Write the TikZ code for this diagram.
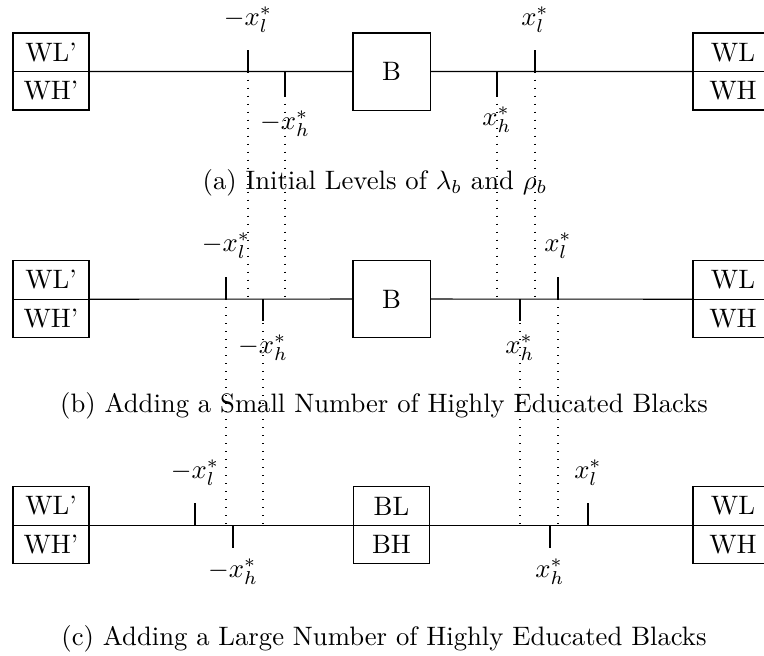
\documentclass[tikz,border=0pt]{standalone}
\begin{document}
\begin{tikzpicture}[x=0.375pt,y=-0.375pt,
  cell/.style={draw, line width=0.4pt, minimum width=28.5pt, minimum height=14.44pt, inner sep=0pt, outer sep=0pt},
  rcell/.style={cell, minimum width=30pt},
  bigbox/.style={draw, line width=0.4pt, minimum width=28.9pt, minimum height=28.9pt, inner sep=0pt, outer sep=0pt},
  lab/.style={anchor=base, inner sep=0pt, outer sep=0pt},
  tickline/.style={line width=0.4pt},
  guide/.style={line width=0.4pt, dash pattern=on 0.4pt off 2.6pt},
  captext/.style={anchor=base, inner sep=0pt}]
\clip (0,0) rectangle (764,655);
% ---------- panel (a) ----------
\node[cell] (aWLp) at (51,52.25) {WL'};
\node[cell] (aWHp) at (51,90.75) {WH'};
\node[bigbox] (aB) at (391.5,71.5) {B};
\node[rcell] (aWL) at (733,52.25) {WL};
\node[rcell] (aWH) at (733,90.75) {WH};
\draw (aWLp.south east) -- (aB.west);
\draw (aB.east) -- (aWL.south west);
\coordinate (a1) at (248,71.5);
\coordinate (a2) at (285,71.5);
\coordinate (a3) at (497,71.5);
\coordinate (a4) at (535,71.5);
\draw[tickline] (a1) -- ++(0,-22);
\draw[tickline] (a2) -- ++(0,24);
\draw[tickline] (a3) -- ++(0,24);
\draw[tickline] (a4) -- ++(0,-22);
\node[lab] (la1) at (248,25) {$-x_l^*$};
\node[lab] (la2) at (285,129) {$-x_h^*$};
\node[lab] (la3) at (497,125) {$x_h^*$};
\node[lab] (la4) at (535,25) {$x_l^*$};
\node[captext] (capa) at (375,189) {(a) Initial Levels of $\lambda_b$ and $\rho_b$};
% ---------- panel (b) ----------
\node[cell] (bWLp) at (51,280) {WL'};
\node[cell] (bWHp) at (51,318.5) {WH'};
\node[bigbox] (bB) at (391.5,299) {B};
\node[rcell] (bWL) at (733,280) {WL};
\node[rcell] (bWH) at (733,318.5) {WH};
\draw (bWLp.south east) -- (bB.west);
\draw (bB.east) -- (bWL.south west);
\coordinate (b1) at (226,299);
\coordinate (b2) at (263,299);
\coordinate (b3) at (520,299);
\coordinate (b4) at (558,299);
\draw[tickline] (b1) -- ++(0,-22);
\draw[tickline] (b2) -- ++(0,22);
\draw[tickline] (b3) -- ++(0,22);
\draw[tickline] (b4) -- ++(0,-22);
\node[lab] (lb1) at (226,251) {$-x_l^*$};
\node[lab] (lb2) at (263,353) {$-x_h^*$};
\node[lab] (lb3) at (520,353) {$x_h^*$};
\node[lab] (lb4) at (558,251) {$x_l^*$};
\node[captext] (capb) at (384,412) {(b) Adding a Small Number of Highly Educated Blacks};
% ---------- panel (c) ----------
\node[cell] (cWLp) at (51,506) {WL'};
\node[cell] (cWHp) at (51,544.5) {WH'};
\node[cell] (cBL) at (391.5,506) {BL};
\node[cell] (cBH) at (391.5,544.5) {BH};
\node[rcell] (cWL) at (733,506) {WL};
\node[rcell] (cWH) at (733,544.5) {WH};
\draw (cWLp.south east) -- (cBL.south west);
\draw (cBL.south east) -- (cWL.south west);
\coordinate (c1) at (195,525);
\coordinate (c2) at (233,525);
\coordinate (c3) at (550,525);
\coordinate (c4) at (588,525);
\draw[tickline] (c1) -- ++(0,-22);
\draw[tickline] (c2) -- ++(0,23);
\draw[tickline] (c3) -- ++(0,23);
\draw[tickline] (c4) -- ++(0,-22);
\node[lab] (lc1) at (195,478) {$-x_l^*$};
\node[lab] (lc2) at (233,577) {$-x_h^*$};
\node[lab] (lc3) at (550,577) {$x_h^*$};
\node[lab] (lc4) at (588,478) {$x_l^*$};
\node[captext] (capc) at (384,645) {(c) Adding a Large Number of Highly Educated Blacks};
% ---------- dotted guides ----------
\draw[guide] (a1) -- (a1 |- b1);
\draw[guide] (a2) -- (a2 |- b1);
\draw[guide] (a3) -- (a3 |- b1);
\draw[guide] (a4) -- (a4 |- b1);
\draw[guide] (b1) -- (b1 |- c1);
\draw[guide] (b2) -- (b2 |- c1);
\draw[guide] (b3) -- (b3 |- c1);
\draw[guide] (b4) -- (b4 |- c1);
\end{tikzpicture}
\end{document}
